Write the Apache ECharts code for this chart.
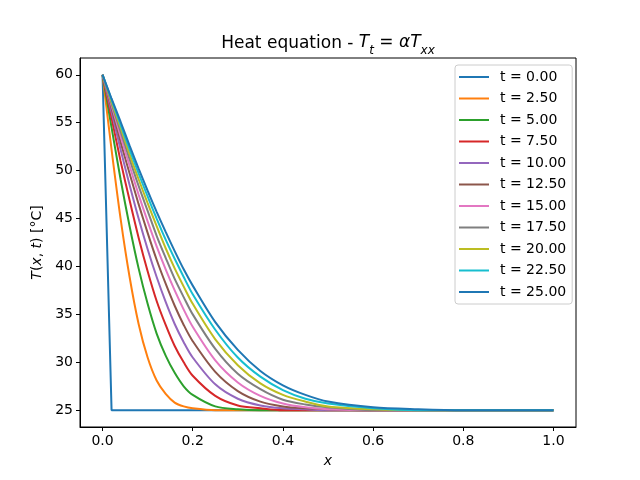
<!DOCTYPE html>
<html>
<head>
<meta charset="utf-8">
<script src="https://cdn.jsdelivr.net/npm/echarts@6/dist/echarts.min.js"></script>
<style>html,body{margin:0;padding:0;background:#fff}#c{width:640px;height:480px}</style>
</head>
<body>
<div id="c"></div>
<script>
const xs = [0, 0.02, 0.04, 0.06, 0.08, 0.10, 0.12, 0.14, 0.16, 0.18, 0.20, 0.25, 0.30, 0.35, 0.40, 0.45, 0.50, 0.60, 0.70, 0.80, 0.90, 1.00];
const names = ['t = 0.00','t = 2.50','t = 5.00','t = 7.50','t = 10.00','t = 12.50','t = 15.00','t = 17.50','t = 20.00','t = 22.50','t = 25.00'];
const t0    = [60, 25, 25, 25, 25, 25, 25, 25, 25, 25, 25, 25, 25, 25, 25, 25, 25, 25, 25, 25, 25, 25];
const t2_5  = [60, 52.2, 45.0, 38.9, 34.0, 30.5, 28.1, 26.7, 25.8, 25.4, 25.2, 25.0, 25.0, 25.0, 25.0, 25.0, 25.0, 25.0, 25.0, 25.0, 25.0, 25.0];
const t5    = [60, 54.5, 49.1, 44.2, 39.8, 36.1, 33.0, 30.7, 28.9, 27.5, 26.6, 25.4, 25.1, 25.0, 25.0, 25.0, 25.0, 25.0, 25.0, 25.0, 25.0, 25.0];
const t7_5  = [60, 55.5, 51.0, 46.9, 43.0, 39.5, 36.4, 33.9, 31.7, 30.0, 28.6, 26.5, 25.5, 25.2, 25.0, 25.0, 25.0, 25.0, 25.0, 25.0, 25.0, 25.0];
const t10   = [60, 56.1, 52.2, 48.5, 45.0, 41.8, 38.9, 36.3, 34.0, 32.1, 30.5, 27.7, 26.2, 25.5, 25.2, 25.1, 25.0, 25.0, 25.0, 25.0, 25.0, 25.0];
const t12_5 = [60, 56.5, 53.0, 49.7, 46.5, 43.5, 40.7, 38.2, 35.9, 33.9, 32.2, 29.0, 27.0, 25.9, 25.4, 25.2, 25.1, 25.0, 25.0, 25.0, 25.0, 25.0];
const t15   = [60, 56.8, 53.6, 50.5, 47.5, 44.7, 42.1, 39.7, 37.5, 35.5, 33.7, 30.2, 27.9, 26.5, 25.7, 25.3, 25.1, 25.0, 25.0, 25.0, 25.0, 25.0];
const t17_5 = [60, 57.0, 54.1, 51.2, 48.4, 45.8, 43.2, 40.9, 38.7, 36.8, 35.0, 31.4, 28.8, 27.2, 26.1, 25.6, 25.3, 25.0, 25.0, 25.0, 25.0, 25.0];
const t20   = [60, 57.2, 54.5, 51.7, 49.1, 46.6, 44.2, 41.9, 39.8, 37.9, 36.1, 32.4, 29.7, 27.8, 26.6, 25.9, 25.4, 25.1, 25.0, 25.0, 25.0, 25.0];
const t22_5 = [60, 57.4, 54.8, 52.2, 49.7, 47.3, 45.0, 42.8, 40.8, 38.9, 37.1, 33.4, 30.5, 28.5, 27.1, 26.2, 25.7, 25.2, 25.0, 25.0, 25.0, 25.0];
const t25   = [60, 57.5, 55.1, 52.6, 50.2, 47.9, 45.7, 43.6, 41.6, 39.7, 38.0, 34.2, 31.3, 29.1, 27.6, 26.6, 25.9, 25.3, 25.1, 25.0, 25.0, 25.0];
const xTicks = [0, 0.2, 0.4, 0.6, 0.8, 1.0];
const yTicks = [25, 30, 35, 40, 45, 50, 55, 60];

const allSeries = [t0, t2_5, t5, t7_5, t10, t12_5, t15, t17_5, t20, t22_5, t25];
const colors = ['#1f77b4','#ff7f0e','#2ca02c','#d62728','#9467bd','#8c564b','#e377c2','#7f7f7f','#bcbd22','#17becf','#1f77b4'];
const FONT = 'DejaVu Sans';

const series = allSeries.map((vals, i) => ({
  name: names[i],
  type: 'line',
  data: vals.map((v, k) => [xs[k], v]),
  showSymbol: false,
  symbol: 'none',
  smooth: i === 0 ? false : 0.3,
  lineStyle: {color: colors[i], width: 2},
  itemStyle: {color: colors[i]},
  animation: false
}));

const chart = echarts.init(document.getElementById('c'), null, {renderer: 'canvas'});
chart.setOption({
  animation: false,
  color: colors,
  title: {
    text: 'Heat equation - {it|T}{sub|t}{n| = }{it|αT}{sub|xx}',
    left: 328, textAlign: 'center', top: 34, padding: 0,
    textStyle: {
      fontFamily: FONT, fontSize: 17, fontWeight: 'normal', color: '#000', lineHeight: 20,
      rich: {
        it: {fontFamily: FONT, fontSize: 17, fontStyle: 'italic', color: '#000', lineHeight: 20, verticalAlign: 'top'},
        n: {fontFamily: FONT, fontSize: 17, color: '#000', lineHeight: 20, verticalAlign: 'top'},
        sub: {fontFamily: FONT, fontSize: 12, fontStyle: 'italic', color: '#000', lineHeight: 12, padding: [11, 0, 0, 0], verticalAlign: 'top'}
      }
    }
  },
  grid: {left: 80, right: 64, top: 58, bottom: 53, show: true, borderColor: '#000', borderWidth: 1, backgroundColor: 'transparent'},
  legend: {
    orient: 'vertical', left: 455, top: 65,
    padding: [5, 6, 5, 4],
    itemGap: 7.5, itemWidth: 30, itemHeight: 2, icon: 'rect',
    backgroundColor: 'rgba(255,255,255,0.8)', borderColor: '#cccccc', borderWidth: 1, borderRadius: 3,
    textStyle: {fontFamily: FONT, fontSize: 14, color: '#000', lineHeight: 14, padding: [0, 0, 0, 6]},
    data: names.map((n, i) => ({name: n, itemStyle: {color: colors[i]}}))
  },
  xAxis: {
    type: 'value', min: -0.05, max: 1.05,
    name: 'x', nameLocation: 'middle', nameGap: 27,
    nameTextStyle: {fontFamily: FONT, fontSize: 14, fontStyle: 'italic', color: '#000'},
    axisLine: {show: true, onZero: false, lineStyle: {color: '#000', width: 1}},
    axisTick: {show: true, length: 4, lineStyle: {color: '#000', width: 1}, customValues: xTicks},
    axisLabel: {fontFamily: FONT, fontSize: 14, color: '#000', margin: 7, customValues: xTicks, formatter: v => v.toFixed(1)},
    splitLine: {show: false}
  },
  yAxis: {
    type: 'value', min: 23.25, max: 61.75,
    name: '{it|T}({it|x}, {it|t}) [°C]', nameLocation: 'middle', nameGap: 36, nameRotate: 90,
    nameTextStyle: {fontFamily: FONT, fontSize: 14, color: '#000',
      rich: {it: {fontFamily: FONT, fontSize: 14, fontStyle: 'italic', color: '#000'}}},
    axisLine: {show: true, onZero: false, lineStyle: {color: '#000', width: 1}},
    axisTick: {show: true, length: 4, lineStyle: {color: '#000', width: 1}, customValues: yTicks},
    axisLabel: {fontFamily: FONT, fontSize: 14, color: '#000', margin: 7, customValues: yTicks, formatter: v => String(v)},
    splitLine: {show: false}
  },
  series: series
});
</script>
</body>
</html>
